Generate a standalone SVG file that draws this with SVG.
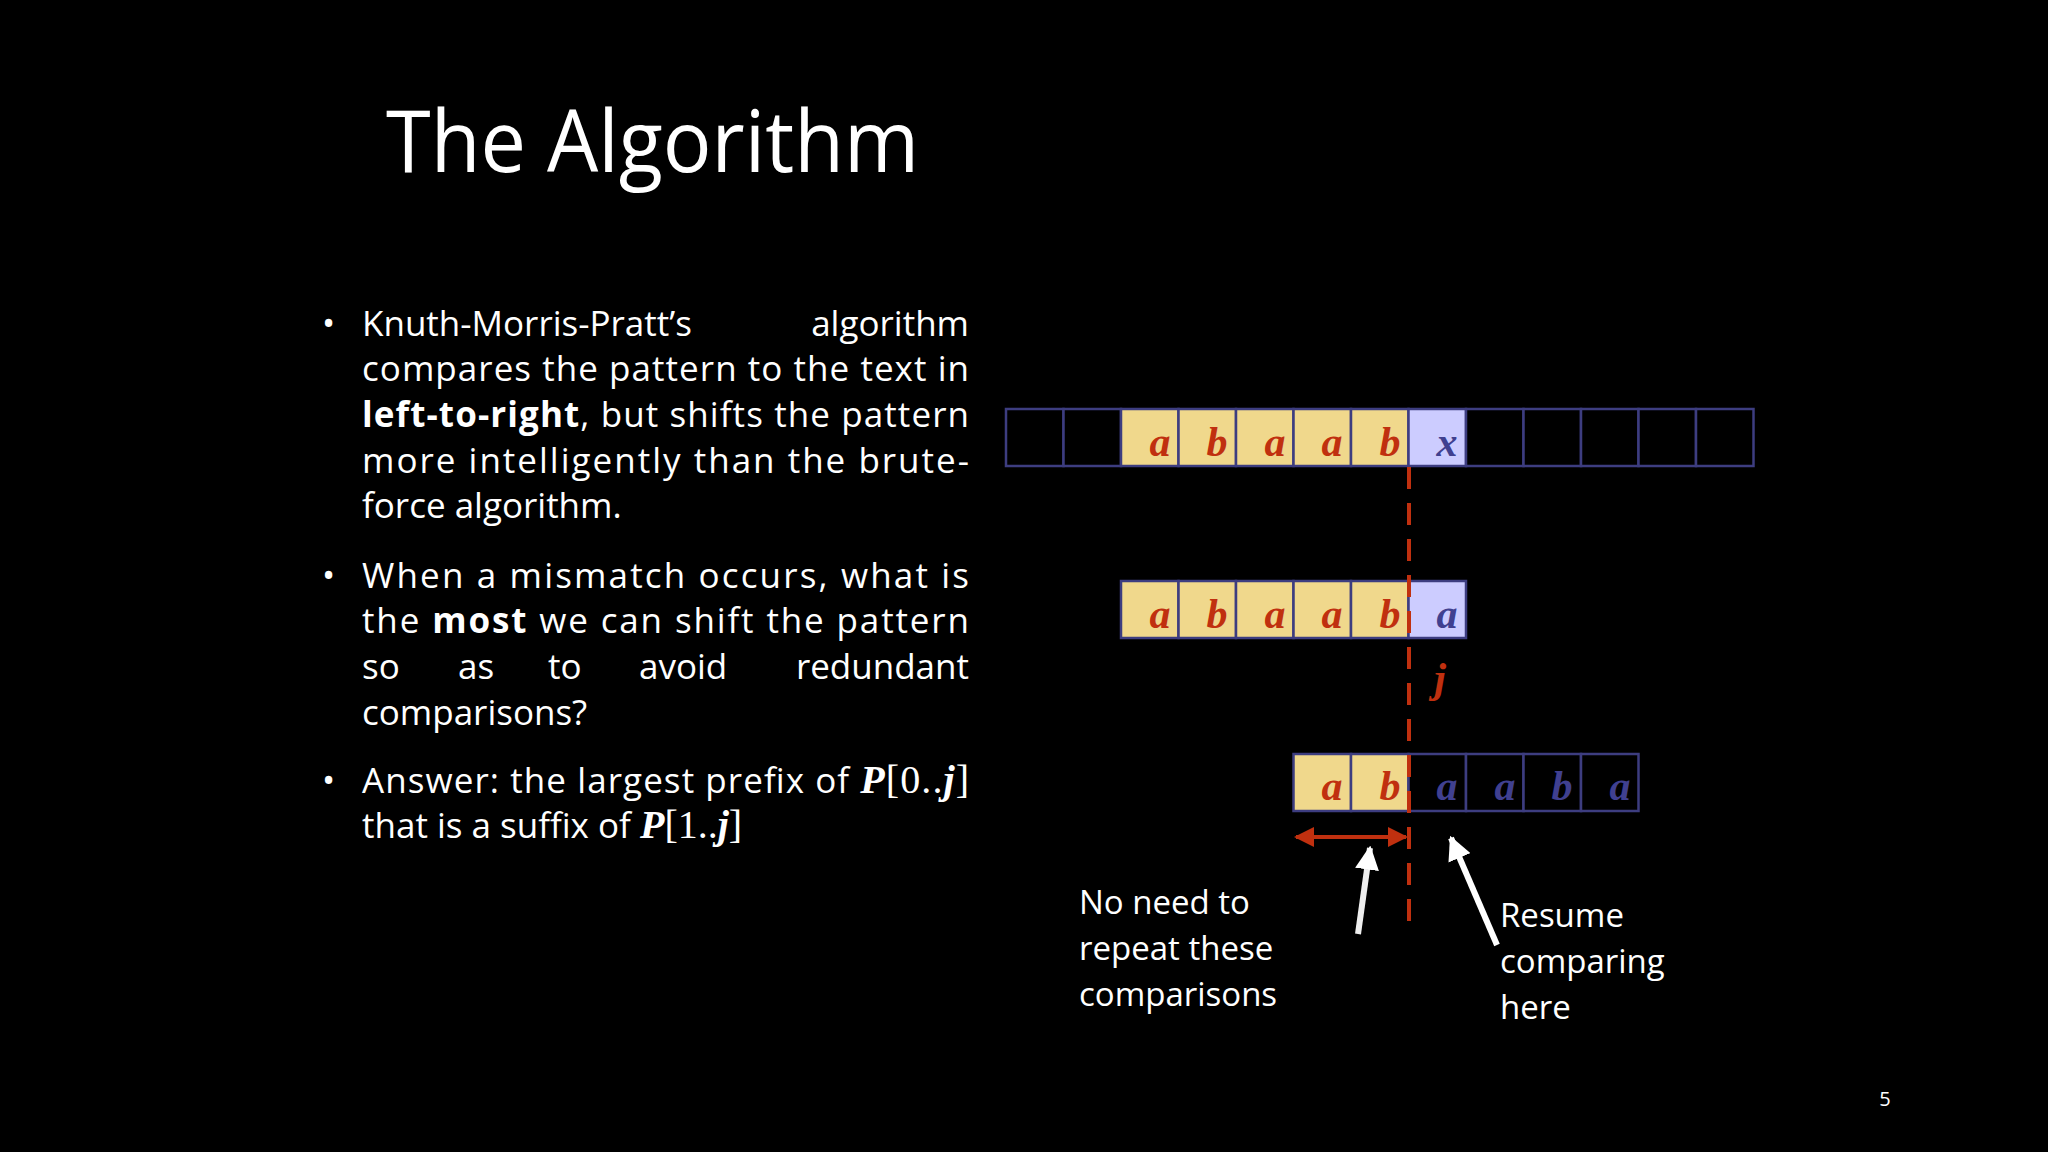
<svg xmlns="http://www.w3.org/2000/svg" width="2048" height="1152" viewBox="0 0 2048 1152">
<defs>
<style>
.t{font-family:"Open Sans","Noto Sans",sans-serif;fill:#fff;font-size:35px}
.c{stroke:#3d3d80;stroke-width:2.5}
.y{fill:#f0d88c}.l{fill:#ccccff}.k{fill:#000}
.r{font-family:"Liberation Serif",serif;font-style:italic;font-weight:bold;font-size:42px;fill:#c0300f;text-anchor:middle}
.b{font-family:"Liberation Serif",serif;font-style:italic;font-weight:bold;font-size:42px;fill:#404090;text-anchor:middle}
.m{font-family:"Liberation Serif",serif}
.s{font-size:33px}
</style>
<marker id="ra" viewBox="0 0 10 10" refX="9" refY="5" markerWidth="5" markerHeight="5" orient="auto-start-reverse"><path d="M0,0L10,5L0,10z" fill="#c0300f"/></marker>
<marker id="wa" viewBox="0 0 10 10" refX="9" refY="5" markerWidth="4" markerHeight="4" orient="auto"><path d="M0,0L10,5L0,10z" fill="#fff"/></marker>
</defs>
<rect width="2048" height="1152" fill="#000"/>
<text class="t" x="386" y="172" style="font-size:86px" textLength="533" lengthAdjust="spacingAndGlyphs">The Algorithm</text>
<g id="bullets">
<text class="t" x="322" y="336">•</text>
<text class="t" x="362" y="336">Knuth-Morris-Pratt’s</text>
<text class="t" x="969" y="336" text-anchor="end">algorithm</text>
<text class="t" x="362" y="381" textLength="607">compares the pattern to the text in</text>
<text class="t" x="362" y="427" textLength="607"><tspan font-weight="bold">left-to-right</tspan>, but shifts the pattern</text>
<text class="t" x="362" y="473" textLength="607">more intelligently than the brute-</text>
<text class="t" x="362" y="518">force algorithm.</text>
<text class="t" x="322" y="588">•</text>
<text class="t" x="362" y="588" textLength="607">When a mismatch occurs, what is</text>
<text class="t" x="362" y="633" textLength="607">the <tspan font-weight="bold">most</tspan> we can shift the pattern</text>
<text class="t" x="362" y="679">so</text>
<text class="t" x="458" y="679">as</text>
<text class="t" x="548" y="679">to</text>
<text class="t" x="639" y="679">avoid</text>
<text class="t" x="969" y="679" text-anchor="end">redundant</text>
<text class="t" x="362" y="725">comparisons?</text>
<text class="t" x="322" y="793">•</text>
<text class="t" x="362" y="793" textLength="607">Answer: the largest prefix of <tspan class="m" font-weight="bold" font-style="italic" font-size="40">P</tspan><tspan class="m" font-size="40">[0..</tspan><tspan class="m" font-weight="bold" font-style="italic" font-size="40">j</tspan><tspan class="m" font-size="40">]</tspan></text>
<text class="t" x="362" y="838">that is a suffix of <tspan class="m" font-weight="bold" font-style="italic" font-size="40">P</tspan><tspan class="m" font-size="40">[1..</tspan><tspan class="m" font-weight="bold" font-style="italic" font-size="40">j</tspan><tspan class="m" font-size="40">]</tspan></text>
</g>
<g id="text-row">
<rect class="c k" x="1006" y="409" width="57.5" height="57"/>
<rect class="c k" x="1063.5" y="409" width="57.5" height="57"/>
<rect class="c y" x="1121" y="409" width="57.5" height="57"/>
<rect class="c y" x="1178.5" y="409" width="57.5" height="57"/>
<rect class="c y" x="1236" y="409" width="57.5" height="57"/>
<rect class="c y" x="1293.5" y="409" width="57.5" height="57"/>
<rect class="c y" x="1351" y="409" width="57.5" height="57"/>
<rect class="c l" x="1408.5" y="409" width="57.5" height="57"/>
<rect class="c k" x="1466" y="409" width="57.5" height="57"/>
<rect class="c k" x="1523.5" y="409" width="57.5" height="57"/>
<rect class="c k" x="1581" y="409" width="57.5" height="57"/>
<rect class="c k" x="1638.5" y="409" width="57.5" height="57"/>
<rect class="c k" x="1696" y="409" width="57.5" height="57"/>
<text class="r" x="1160" y="456">a</text><text class="r" x="1217" y="456">b</text><text class="r" x="1275" y="456">a</text><text class="r" x="1332" y="456">a</text><text class="r" x="1390" y="456">b</text><text class="b" x="1447" y="456">x</text>
</g>
<g id="pattern-row">
<rect class="c y" x="1121" y="581" width="57.5" height="57"/>
<rect class="c y" x="1178.5" y="581" width="57.5" height="57"/>
<rect class="c y" x="1236" y="581" width="57.5" height="57"/>
<rect class="c y" x="1293.5" y="581" width="57.5" height="57"/>
<rect class="c y" x="1351" y="581" width="57.5" height="57"/>
<rect class="c l" x="1408.5" y="581" width="57.5" height="57"/>
<text class="r" x="1160" y="628">a</text><text class="r" x="1217" y="628">b</text><text class="r" x="1275" y="628">a</text><text class="r" x="1332" y="628">a</text><text class="r" x="1390" y="628">b</text><text class="b" x="1447" y="628">a</text>
</g>
<g id="shifted-row">
<rect class="c y" x="1293.5" y="754" width="57.5" height="57"/>
<rect class="c y" x="1351" y="754" width="57.5" height="57"/>
<rect class="c k" x="1408.5" y="754" width="57.5" height="57"/>
<rect class="c k" x="1466" y="754" width="57.5" height="57"/>
<rect class="c k" x="1523.5" y="754" width="57.5" height="57"/>
<rect class="c k" x="1581" y="754" width="57.5" height="57"/>
<text class="r" x="1332" y="800">a</text><text class="r" x="1390" y="800">b</text><text class="b" x="1447" y="800">a</text><text class="b" x="1505" y="800">a</text><text class="b" x="1562" y="800">b</text><text class="b" x="1620" y="800">a</text>
</g>
<text class="r" x="1440" y="692">j</text>
<g id="connectors">
<line x1="1409" y1="467" x2="1409" y2="925" stroke="#c0300f" stroke-width="4" stroke-dasharray="22,14"/>
<line x1="1296" y1="837" x2="1406" y2="837" stroke="#c0300f" stroke-width="4" marker-start="url(#ra)" marker-end="url(#ra)"/>
<line x1="1358" y1="934" x2="1370" y2="848" stroke="#eee" stroke-width="6" marker-end="url(#wa)"/>
<line x1="1497" y1="945" x2="1451" y2="838" stroke="#fff" stroke-width="6" marker-end="url(#wa)"/>
</g>
<g id="labels">
<text class="t s" x="1079" y="914">No need to</text>
<text class="t s" x="1079" y="960">repeat these</text>
<text class="t s" x="1079" y="1006">comparisons</text>
<text class="t s" x="1500" y="927">Resume</text>
<text class="t s" x="1500" y="973">comparing</text>
<text class="t s" x="1500" y="1019">here</text>
</g>
<text class="t" x="1885" y="1106" style="font-size:20px" text-anchor="middle">5</text>
</svg>
